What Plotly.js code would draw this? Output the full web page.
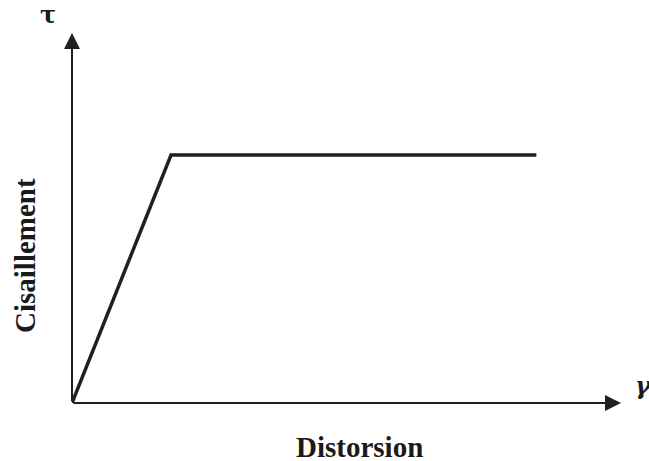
<!DOCTYPE html>
<html>
<head>
<meta charset="utf-8">
<script src="https://cdn.plot.ly/plotly-3.0.1.min.js"></script>
<style>html,body{margin:0;padding:0;background:#fff;}#chart{width:649px;height:461px;}</style>
</head>
<body>
<div id="chart"></div>
<script>
// Data: elastic-perfectly-plastic shear law (arbitrary units)
const distorsion = [0, 1, 4.69];
const cisaillement = [0, 1, 1];
const xLabel = "Distorsion";
const yLabel = "Cisaillement";
const xSymbol = "γ";
const ySymbol = "τ";
const xMax = 5.545;
const yMax = 1.492;

const ink = "#231f20";
const serif = "'Liberation Serif', 'Times New Roman', serif";

const trace = {
  x: distorsion, y: cisaillement, type: "scatter", mode: "lines",
  line: {color: ink, width: 3.5}, hoverinfo: "skip", cliponaxis: false
};

const hidden = {showgrid:false, zeroline:false, showline:false, showticklabels:false, ticks:"", fixedrange:true};

const layout = {
  width: 649, height: 461,
  margin: {l: 72, r: 28, t: 33, b: 58, pad: 0},
  paper_bgcolor: "#fff", plot_bgcolor: "#fff",
  showlegend: false,
  xaxis: Object.assign({range: [0, xMax]}, hidden),
  yaxis: Object.assign({range: [0, yMax]}, hidden),
  annotations: [
    {x: xMax, y: 0, ax: 0, ay: 0, axref: "x", ayref: "y", xref: "x", yref: "y", text: "",
     showarrow: true, arrowhead: 2, arrowsize: 1.6, arrowwidth: 2, arrowcolor: ink, standoff: 0},
    {x: 0, y: yMax, ax: 0, ay: 0, axref: "x", ayref: "y", xref: "x", yref: "y", text: "",
     showarrow: true, arrowhead: 2, arrowsize: 1.6, arrowwidth: 2, arrowcolor: ink, standoff: 0},
    {xref: "paper", yref: "paper", x: (359.5-72)/549, y: (403-447)/370, xanchor: "center", yanchor: "middle",
     text: "<b>" + xLabel + "</b>", showarrow: false, font: {family: serif, size: 29, color: "#1a1a1a"}},
    {xref: "paper", yref: "paper", x: (25-72)/549, y: (403-256)/370, xanchor: "center", yanchor: "middle",
     text: "<b>" + yLabel + "</b>", textangle: -90, showarrow: false, font: {family: serif, size: 29, color: "#1a1a1a"}},
    {xref: "paper", yref: "paper", x: (47.5-72)/549, y: (403-14)/370, xanchor: "center", yanchor: "middle",
     text: "<b>" + ySymbol + "</b>", showarrow: false, font: {family: "'DejaVu Serif', serif", size: 24, color: "#1a1a1a"}},
    {xref: "paper", yref: "paper", x: (643-72)/549, y: (403-385)/370, xanchor: "center", yanchor: "middle",
     text: "<b><i>" + xSymbol + "</i></b>", showarrow: false, font: {family: "'DejaVu Serif', serif", size: 24, color: "#1a1a1a"}}
  ]
};

Plotly.newPlot("chart", [trace], layout, {staticPlot: true, displayModeBar: false});
</script>
</body>
</html>
